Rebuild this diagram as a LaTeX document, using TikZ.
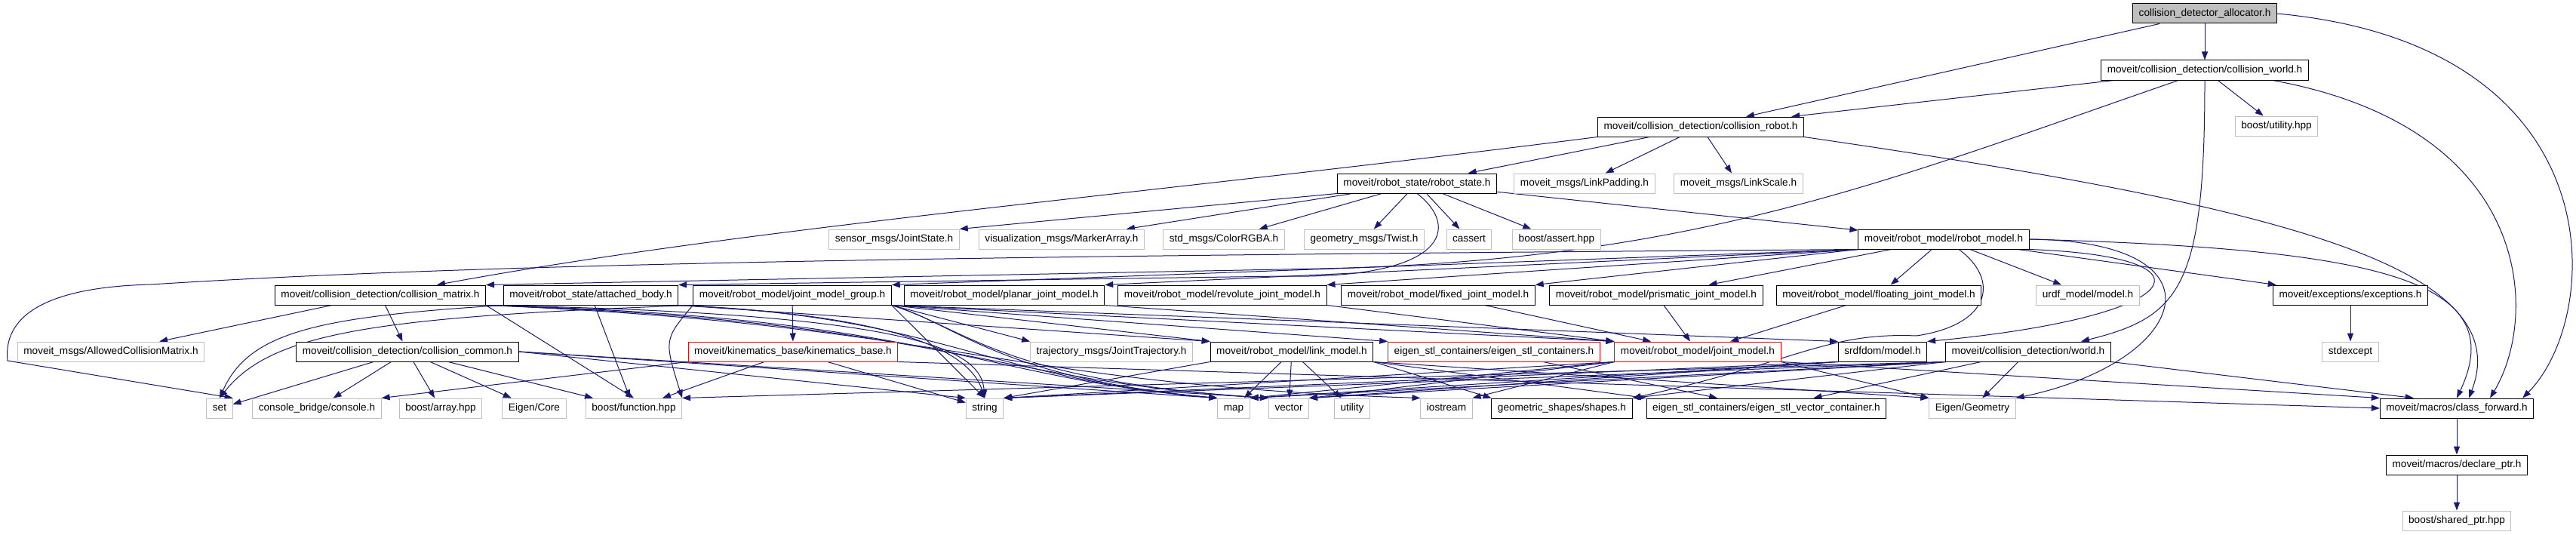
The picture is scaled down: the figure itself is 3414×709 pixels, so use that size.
\documentclass[tikz,border=0pt]{standalone}
\usepackage{fontspec}
\setmainfont{Liberation Sans}
\usetikzlibrary{arrows.meta,calc}
\definecolor{incblue}{HTML}{191970}
\definecolor{extgray}{HTML}{BFBFBF}
\definecolor{cutred}{HTML}{FF0000}
\pgfdeclarelayer{back}
\pgfsetlayers{back,main}
\tikzset{inc/.style={draw=incblue, line width=1pt, -{Triangle[length=11pt,width=8pt]}},
  hdr/.style={draw=black, line width=1pt, fill=white, minimum height=26pt,
    inner xsep=8pt, inner ysep=0pt, text height=10pt, text depth=3pt},
  ext/.style={hdr, draw=extgray},
  cut/.style={hdr, draw=cutred},
  root/.style={hdr, fill=extgray}}

\begin{document}
\begin{tikzpicture}[x=1pt, y=-1pt, font=\fontsize{13.6pt}{16pt}\selectfont]
  \useasboundingbox (0,0) rectangle (3414,709);
  % top of the graph
  \node[root] (alloc) at (2922,18) {collision\_detector\_allocator.h};
  \node[hdr] (cworld) at (2922,93) {moveit/collision\_detection/collision\_world.h};
  \node[hdr] (crobot) at (2254,168) {moveit/collision\_detection/collision\_robot.h};
  \node[ext] (butil) at (3017,167) {boost/utility.hpp};
  \node[hdr] (rstate) at (1878,243) {moveit/robot\_state/robot\_state.h};
  \node[ext] (lpad) at (2100,243) {moveit\_msgs/LinkPadding.h};
  \node[ext] (lscale) at (2304,243) {moveit\_msgs/LinkScale.h};
  % robot state includes
  \node[ext] (jstate) at (1185,317) {sensor\_msgs/JointState.h};
  \node[ext] (marker) at (1407,317) {visualization\_msgs/MarkerArray.h};
  \node[ext] (rgba) at (1622,317) {std\_msgs/ColorRGBA.h};
  \node[ext] (twist) at (1808,317) {geometry\_msgs/Twist.h};
  \node[ext] (cassert) at (1947,317) {cassert};
  \node[ext] (bassert) at (2063,317) {boost/assert.hpp};
  \node[hdr] (rmodel) at (2576,317) {moveit/robot\_model/robot\_model.h};
  % joint models and friends
  \node[hdr] (cmatrix) at (504,391) {moveit/collision\_detection/collision\_matrix.h};
  \node[hdr] (abody) at (783,391) {moveit/robot\_state/attached\_body.h};
  \node[hdr] (jmg) at (1050,391) {moveit/robot\_model/joint\_model\_group.h};
  \node[hdr] (planar) at (1331,391) {moveit/robot\_model/planar\_joint\_model.h};
  \node[hdr] (revolute) at (1620,391) {moveit/robot\_model/revolute\_joint\_model.h};
  \node[hdr] (fixed) at (1906,391) {moveit/robot\_model/fixed\_joint\_model.h};
  \node[hdr] (prismatic) at (2195,391) {moveit/robot\_model/prismatic\_joint\_model.h};
  \node[hdr] (floating) at (2490,391) {moveit/robot\_model/floating\_joint\_model.h};
  \node[ext] (urdf) at (2767,391) {urdf\_model/model.h};
  \node[hdr] (exceptions) at (3115,391) {moveit/exceptions/exceptions.h};
  % second level
  \node[ext] (acm) at (147,466) {moveit\_msgs/AllowedCollisionMatrix.h};
  \node[hdr] (ccommon) at (540,466) {moveit/collision\_detection/collision\_common.h};
  \node[cut] (kbase) at (1051,466) {moveit/kinematics\_base/kinematics\_base.h};
  \node[ext] (traj) at (1473,466) {trajectory\_msgs/JointTrajectory.h};
  \node[hdr] (lmodel) at (1712,466) {moveit/robot\_model/link\_model.h};
  \node[cut] (escont) at (1980,466) {eigen\_stl\_containers/eigen\_stl\_containers.h};
  \node[cut] (jmodel) at (2250,466) {moveit/robot\_model/joint\_model.h};
  \node[hdr] (srdf) at (2495,466) {srdfdom/model.h};
  \node[hdr] (world) at (2688,466) {moveit/collision\_detection/world.h};
  \node[ext] (stdexc) at (3115,466) {stdexcept};
  % leaves
  \node[ext] (sset) at (291,541) {set};
  \node[ext] (console) at (420,541) {console\_bridge/console.h};
  \node[ext] (barray) at (584,541) {boost/array.hpp};
  \node[ext] (ecore) at (708,541) {Eigen/Core};
  \node[ext] (bfunc) at (840,541) {boost/function.hpp};
  \node[ext] (sstring) at (1305,541) {string};
  \node[ext] (smap) at (1635,541) {map};
  \node[ext] (svector) at (1708,541) {vector};
  \node[ext] (sutil) at (1792,541) {utility};
  \node[ext] (sio) at (1917,541) {iostream};
  \node[hdr] (shapes) at (2070,541) {geometric\_shapes/shapes.h};
  \node[hdr] (evc) at (2341,541) {eigen\_stl\_containers/eigen\_stl\_vector\_container.h};
  \node[ext] (egeom) at (2614,541) {Eigen/Geometry};
  \node[hdr] (cfwd) at (3256,541) {moveit/macros/class\_forward.h};
  \node[hdr] (declptr) at (3256,616) {moveit/macros/declare\_ptr.h};
  \node[ext] (sptr) at (3256,690) {boost/shared\_ptr.hpp};

  \begin{pgfonlayer}{back}
  % allocator and world
  \draw[inc] (alloc) -- (cworld);
  \draw[inc] (alloc) -- (crobot);
  \draw[inc] (alloc.east) .. controls (3470,60) and (3450,420) .. ($(cfwd.north east)+(-15,0)$);
  \draw[inc] (cworld) -- (crobot);
  \draw[inc] (cworld) -- (butil);
  \draw[inc] (cworld.south) .. controls (2922,380) and (2890,420) .. ($(world.north)+(70,0)$);
  \draw[inc] ($(cworld.south)+(90,0)$) .. controls (3360,170) and (3365,420) .. ($(cfwd.north)+(44,0)$);
  \draw[inc] ($(cworld.south)+(-35,0)$) .. controls (2500,240) and (2250,345) .. (1750,356) -- (cmatrix.north east);
  % collision robot
  \draw[inc] (crobot.south west) .. controls (1500,260) and (1000,300) .. ($(cmatrix.north)+(75,0)$);
  \foreach \tgt in {rstate,lpad,lscale}
    \draw[inc] (crobot) -- (\tgt);
  \draw[inc] (crobot.south east) .. controls (3000,270) and (3340,350) .. ($(cfwd.north)+(16,0)$);
  % robot state
  \draw[inc] (rstate.south west) -- (jstate.north east);
  \foreach \tgt in {marker,rgba,twist,cassert,bassert,rmodel}
    \draw[inc] (rstate) -- (\tgt);
  \draw[inc] (rstate.south) .. controls (1935,300) and (1920,370) .. (1700,366) -- (abody.north east);
  % robot model
  \draw[inc] (rmodel.south west) .. controls (1500,338) and (700,345) .. (200,377)
    .. controls (40,381) and (5,430) .. (10,478) -- (sset.north east);
  \foreach \tgt in {jmg,planar,revolute,fixed}
    \draw[inc] (rmodel.south west) -- (\tgt.north east);
  \foreach \tgt in {prismatic,floating,urdf,exceptions}
    \draw[inc] (rmodel) -- (\tgt);
  \draw[inc] (rmodel.south east) .. controls (2950,340) and (2900,420) .. (srdf.north east);
  \draw[inc] (rmodel.east) .. controls (2960,320) and (2900,480) .. (egeom.north east);
  \draw[inc] ($(rmodel.south)+(20,0)$) .. controls (2650,370) and (2640,430) .. (2540,445)
    .. controls (2420,440) and (2380,480) .. (shapes.north east);
  \draw[inc] (rmodel.east) .. controls (3150,330) and (3330,370) .. (cfwd.north);
  % collision matrix and common
  \draw[inc] (cmatrix) -- (acm);
  \draw[inc] (cmatrix) -- (ccommon);
  \draw[inc] (cmatrix.south east) -- (bfunc.north);
  \draw[inc] (cmatrix.south east) .. controls (1200,415) and (1300,460) .. (sstring.north);
  \draw[inc] (cmatrix.south east) .. controls (1240,420) and (1290,500) .. (smap.north west);
  \draw[inc] (cmatrix.south east) .. controls (1250,425) and (1310,505) .. (svector.north west);
  \draw[inc] (cmatrix.south east) .. controls (1260,430) and (1330,510) .. (sio.north west);
  \foreach \tgt in {sset,console,barray,ecore,bfunc}
    \draw[inc] (ccommon) -- (\tgt);
  \foreach \tgt in {sstring,smap,svector}
    \draw[inc] (ccommon.east) -- (\tgt.north west);
  % attached body
  \draw[inc] (abody.south west) .. controls (420,420) and (330,440) .. (sset.north);
  \draw[inc] (abody) -- (bfunc);
  \draw[inc] (abody.south east) -- (lmodel.north west);
  \draw[inc] (abody.south east) .. controls (1190,418) and (1285,465) .. (sstring.north);
  \draw[inc] (abody.south east) .. controls (1250,420) and (1300,500) .. (smap.north west);
  % joint model group
  \draw[inc] (jmg) -- (kbase);
  \draw[inc] (jmg.south west) .. controls (880,450) .. (bfunc.north east);
  \draw[inc] (jmg.south west) .. controls (500,420) and (360,440) .. (sset.north);
  \foreach \tgt in {traj,lmodel,escont,jmodel,srdf}
    \draw[inc] (jmg.south east) -- (\tgt.north west);
  \draw[inc] (jmg.south east) -- (sstring.north);
  \draw[inc] (jmg.south east) .. controls (1270,430) and (1320,500) .. (smap.north west);
  \draw[inc] (jmg.south east) .. controls (1280,435) and (1330,505) .. (svector.north west);
  % kinematics base
  \draw[inc] (kbase) -- (bfunc);
  \draw[inc] (kbase) -- (sstring);
  \draw[inc] (kbase.south west) -- (console.north east);
  \draw[inc] (kbase.south east) -- (cfwd.west);
  % link model
  \draw[inc] (lmodel.south west) -- (sstring.north east);
  \foreach \tgt in {smap,svector,sutil}
    \draw[inc] (lmodel) -- (\tgt);
  \foreach \tgt in {shapes,evc,egeom}
    \draw[inc] (lmodel.south east) -- (\tgt.north west);
  % joint model
  \foreach \tgt in {sstring,smap,svector,sio}
    \draw[inc] (jmodel.south west) -- (\tgt.north east);
  \draw[inc] (jmodel.south east) -- (egeom.north west);
  \draw[inc] (jmodel.south east) -- (cfwd.north west);
  \draw[inc] (planar.south east) -- (jmodel.north west);
  \draw[inc] (revolute.south east) -- (jmodel.north west);
  \foreach \src in {fixed,prismatic,floating}
    \draw[inc] (\src) -- (jmodel);
  \draw[inc] (escont) -- (evc);
  % srdf and world
  \foreach \tgt in {sstring,smap,svector}
    \draw[inc] (srdf.south west) -- (\tgt.north east);
  \foreach \tgt in {sstring,smap,svector,bfunc,shapes}
    \draw[inc] (world.south west) -- (\tgt.north east);
  \draw[inc] (world) -- (evc);
  \draw[inc] (world) -- (egeom);
  \draw[inc] (world.south east) -- ($(cfwd.north west)+(45,0)$);
  % macros
  \draw[inc] (exceptions) -- (stdexc);
  \draw[inc] (cfwd) -- (declptr);
  \draw[inc] (declptr) -- (sptr);
  \end{pgfonlayer}
\end{tikzpicture}
\end{document}
